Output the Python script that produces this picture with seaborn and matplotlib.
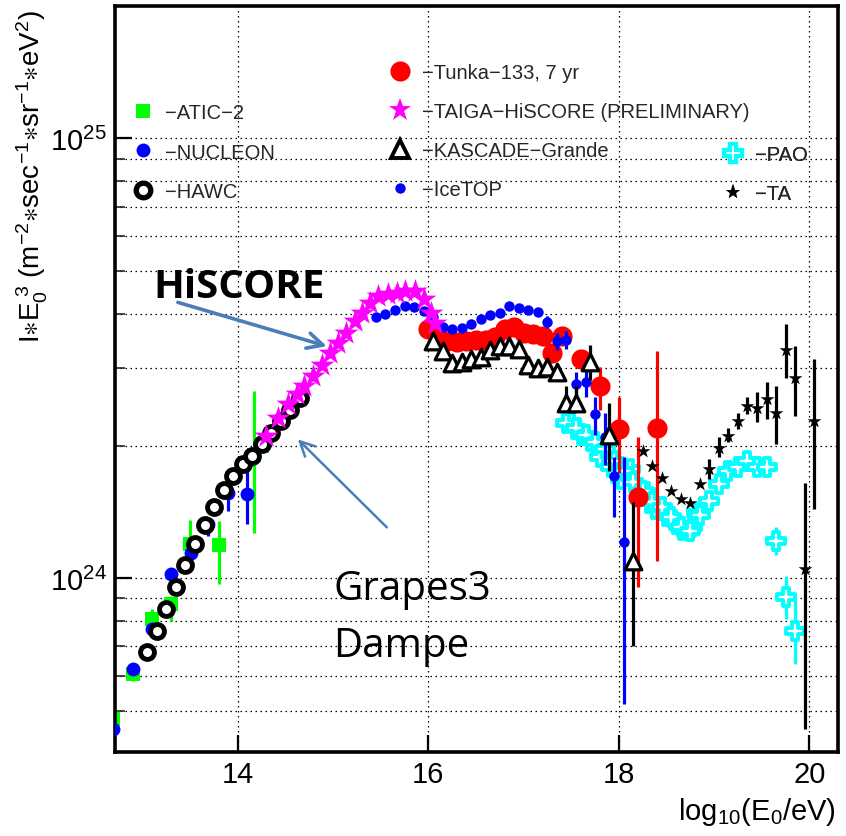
import numpy as np
import pandas as pd
import matplotlib
matplotlib.use("Agg")
import matplotlib.pyplot as plt
import seaborn as sns
from matplotlib.lines import Line2D
from matplotlib.ticker import LogLocator, NullFormatter, FixedLocator, NullLocator

# ---------------- data: x = log10(E0/eV), y = I*E0^3 in units of 1e24 ----------------
atic_x = [12.69, 12.90, 13.10, 13.30, 13.50, 13.80, 14.17, 14.25]
atic_y = [0.48, 0.605, 0.81, 0.875, 1.20, 1.19, 1.91, 2.00]
atic_lo = [0.46, 0.585, 0.77, 0.80, 1.07, 0.97, 1.27, 1.95]
atic_hi = [0.51, 0.625, 0.85, 0.91, 1.355, 1.35, 2.66, 2.05]

nucleon_x = [12.69, 12.90, 13.10, 13.30, 13.51, 13.69, 13.90, 14.10]
nucleon_y = [0.455, 0.623, 0.766, 1.025, 1.144, 1.327, 1.566, 1.552]
nucleon_lo = [0.45, 0.61, 0.75, 1.0, 1.12, 1.248, 1.422, 1.327]
nucleon_hi = [0.46, 0.635, 0.78, 1.05, 1.17, 1.38, 1.619, 1.767]

hawc_x = [13.05, 13.15, 13.25, 13.35, 13.45, 13.55, 13.65, 13.75, 13.85, 13.95,
          14.05, 14.15, 14.25, 14.35, 14.45, 14.55, 14.65]
hawc_y = [0.68, 0.76, 0.85, 0.955, 1.07, 1.20, 1.32, 1.45, 1.585, 1.71,
          1.82, 1.90, 2.02, 2.14, 2.28, 2.42, 2.57]

taiga_x = [14.30, 14.42, 14.53, 14.62, 14.69, 14.79, 14.88, 14.97, 15.05, 15.14,
           15.23, 15.30, 15.39, 15.47, 15.58, 15.67, 15.75, 15.86, 15.95, 16.03, 16.07]
taiga_y = [2.11, 2.32, 2.49, 2.62, 2.74, 2.88, 3.06, 3.26, 3.43, 3.62,
           3.85, 4.02, 4.23, 4.38, 4.42, 4.46, 4.50, 4.50, 4.31, 4.02, 3.81]

icetop_x = [15.45, 15.55, 15.65, 15.75, 15.85, 15.95, 16.05, 16.15, 16.25, 16.35,
            16.45, 16.55, 16.65, 16.75, 16.85, 16.95, 17.05, 17.15, 17.25, 17.35,
            17.45, 17.55, 17.65, 17.75, 17.85, 17.95, 18.05]
icetop_y = [3.92, 4.00, 4.08, 4.15, 4.13, 4.06, 3.92, 3.72, 3.68, 3.70,
            3.78, 3.88, 3.96, 4.02, 4.17, 4.11, 4.08, 4.04, 3.82, 3.46,
            3.49, 2.76, 2.79, 2.36, 2.10, 1.71, 1.21]
icetop_err_x = [17.25, 17.35, 17.45, 17.55, 17.65, 17.75, 17.85, 17.95, 18.05]
icetop_lo = [3.70, 3.30, 3.33, 2.59, 2.59, 2.12, 1.81, 1.38, 0.517]
icetop_hi = [3.95, 3.62, 3.65, 2.94, 2.96, 2.58, 2.38, 1.89, 1.89]

tunka_x = [16.0, 16.1, 16.2, 16.3, 16.4, 16.5, 16.6, 16.7, 16.8, 16.9,
           17.0, 17.1, 17.2, 17.3, 17.4, 17.6, 17.8, 18.0, 18.2, 18.4]
tunka_y = [3.68, 3.53, 3.46, 3.44, 3.47, 3.49, 3.49, 3.53, 3.68, 3.72,
           3.62, 3.60, 3.55, 3.26, 3.55, 3.15, 2.73, 2.18, 1.53, 2.20]
tunka_err_x = [17.8, 18.0, 18.2, 18.4]
tunka_lo = [2.42, 1.74, 0.954, 1.093]
tunka_hi = [3.03, 2.59, 2.10, 3.28]

kascade_x = [16.05, 16.15, 16.25, 16.35, 16.45, 16.55, 16.65, 16.75, 16.85, 16.95,
             17.05, 17.15, 17.25, 17.35, 17.45, 17.55, 17.70, 17.90, 18.15]
kascade_y = [3.46, 3.28, 3.08, 3.10, 3.16, 3.18, 3.31, 3.38, 3.38, 3.33,
             3.05, 3.00, 3.03, 2.94, 2.51, 2.51, 3.10, 2.12, 1.093]
kascade_err_x = [17.45, 17.55, 17.70, 17.90, 18.15]
kascade_lo = [2.39, 2.39, 2.83, 1.75, 0.70]
kascade_hi = [2.73, 2.73, 3.40, 2.51, 1.488]

pao_x = [17.45, 17.55, 17.65, 17.75, 17.85, 17.95, 18.05, 18.15, 18.25, 18.35,
         18.45, 18.55, 18.65, 18.75, 18.85, 18.95, 19.05, 19.15, 19.25, 19.35,
         19.45, 19.55, 19.65, 19.75, 19.85]
pao_y = [2.26, 2.20, 2.12, 2.04, 1.965, 1.845, 1.75, 1.66, 1.577, 1.49,
         1.45, 1.376, 1.306, 1.279, 1.39, 1.496, 1.635, 1.75, 1.787, 1.845,
         1.787, 1.787, 1.214, 0.906, 0.758]
pao_err_x = [19.65, 19.75, 19.85]
pao_lo = [1.13, 0.81, 0.638]
pao_hi = [1.31, 1.01, 0.896]
pao2_x = [17.50, 17.60, 17.70, 17.80, 17.92, 18.02, 18.12, 18.28, 18.38, 18.49,
          18.57, 18.66, 18.77, 18.82]
pao2_y = [2.27, 2.12, 2.05, 1.89, 1.79, 1.68, 1.77, 1.57, 1.435, 1.383,
          1.36, 1.29, 1.31, 1.41]

ta_x = [18.25, 18.35, 18.45, 18.55, 18.65, 18.75, 18.85, 18.95, 19.05, 19.15,
        19.25, 19.35, 19.45, 19.55, 19.65, 19.75, 19.85, 19.95, 20.05]
ta_y = [1.946, 1.80, 1.693, 1.579, 1.512, 1.486, 1.635, 1.769, 1.98, 2.106,
        2.278, 2.47, 2.443, 2.56, 2.38, 3.30, 2.85, 1.052, 2.278]
ta_err_x = [18.95, 19.05, 19.15, 19.25, 19.35, 19.45, 19.55, 19.65, 19.75, 19.85, 19.95, 20.05]
ta_lo = [1.679, 1.89, 2.04, 2.18, 2.36, 2.27, 2.30, 2.016, 2.86, 2.335, 0.454, 1.435]
ta_hi = [1.865, 2.10, 2.2, 2.38, 2.59, 2.65, 2.80, 2.73, 3.78, 3.37, 1.65, 3.15]

x_ticks = [14, 16, 18, 20]
labels = ["\u2212ATIC\u22122", "\u2212NUCLEON", "\u2212HAWC",
          "\u2212Tunka\u2212133, 7 yr", "\u2212TAIGA\u2212HiSCORE (PRELIMINARY)",
          "\u2212KASCADE\u2212Grande", "\u2212IceTOP", "\u2212PAO", "\u2212TA"]

UNIT = 1e24

# ---------------- style ----------------
sns.set_theme(style="white")
plt.rcParams['font.family'] = ['Liberation Sans', 'DejaVu Sans']
plt.rcParams['mathtext.fontset'] = 'custom'
plt.rcParams['mathtext.rm'] = 'Liberation Sans'
plt.rcParams['mathtext.it'] = 'Liberation Sans:italic'
plt.rcParams['mathtext.bf'] = 'Liberation Sans:bold'
plt.rcParams['mathtext.sf'] = 'Liberation Sans'

GREEN, BLUE, RED, MAG, CYAN = '#00ff00', '#0000ff', '#ff0000', '#ff00ff', '#00ffff'

fig = plt.figure(figsize=(8.46, 8.37), dpi=100)
ax = fig.add_axes([0.1359, 0.1004, 0.8546, 0.8912])


def scale(v):
    return [val * UNIT for val in v]


def err(xs, lo, hi, color, z):
    ax.vlines(xs, scale(lo), scale(hi), colors=color, lw=2.3, zorder=z)


def scat(xs, ys, marker, ms, face, edge, lw, z):
    df = pd.DataFrame({"x": xs, "y": scale(ys)})
    sns.scatterplot(data=df, x="x", y="y", marker=marker, s=ms ** 2,
                    color=face, edgecolor=edge, linewidth=lw, ax=ax, zorder=z,
                    legend=False)


# ATIC-2
err(atic_x, atic_lo, atic_hi, GREEN, 2)
scat(atic_x, atic_y, 's', 10, GREEN, GREEN, 0, 2)
# NUCLEON
err(nucleon_x, nucleon_lo, nucleon_hi, BLUE, 3)
scat(nucleon_x, nucleon_y, 'o', 10, BLUE, BLUE, 0, 3)
# HAWC
scat(hawc_x, hawc_y, 'o', 10, 'white', 'black', 3.5, 4)
# Tunka-133
err(tunka_err_x, tunka_lo, tunka_hi, RED, 5)
scat(tunka_x, tunka_y, 'o', 14.5, RED, RED, 0, 5)
# IceTOP
err(icetop_err_x, icetop_lo, icetop_hi, BLUE, 6)
scat(icetop_x, icetop_y, 'o', 7.5, BLUE, BLUE, 0, 6)
# KASCADE-Grande
err(kascade_err_x, kascade_lo, kascade_hi, 'black', 7)
scat(kascade_x, kascade_y, '^', 12, 'white', 'black', 2.3, 7)
# TAIGA-HiSCORE
scat(taiga_x, taiga_y, '*', 18, MAG, MAG, 0, 8)
# PAO
err(pao_err_x, pao_lo, pao_hi, CYAN, 4)
scat(pao2_x, pao2_y, 'P', 12.5, 'white', CYAN, 2.8, 4)
scat(pao_x, pao_y, 'P', 12.5, 'white', CYAN, 2.8, 4)
# TA
err(ta_err_x, ta_lo, ta_hi, 'black', 9)
scat(ta_x, ta_y, '*', 10.5, 'black', 'black', 0, 9)

# ---------------- axes ----------------
ax.set_yscale('log')
ax.set_xlim(12.71, 20.30)
ax.set_ylim(4.03e23, 2.0e25)
ax.xaxis.set_major_locator(FixedLocator(x_ticks))
ax.xaxis.set_minor_locator(NullLocator())
ax.set_xticklabels([str(t) for t in x_ticks])
ax.yaxis.set_major_locator(LogLocator(base=10, numticks=10))
ax.yaxis.set_minor_locator(LogLocator(base=10, subs=np.arange(2, 10), numticks=20))
ax.yaxis.set_minor_formatter(NullFormatter())

grid_kw = dict(color='black', lw=0.9, linestyle=(0, (1.2, 2.8)))
ax.grid(False)
ax.grid(True, which='major', axis='x', **grid_kw)
ax.grid(True, which='both', axis='y', **grid_kw)
ax.set_axisbelow(True)

ax.tick_params(axis='both', which='major', direction='in', length=12, width=1.6,
               labelsize=21, colors='black', pad=6, left=True, bottom=True)
ax.tick_params(axis='y', which='minor', direction='in', length=7, width=1.2, left=True)
for sp in ax.spines.values():
    sp.set_color('black')
    sp.set_linewidth(2.6)

ax.set_xlabel(r"$\mathregular{log_{10}(E_0/eV)}$", fontsize=21, loc='right', color='black')
ax.xaxis.set_label_coords(0.997, -0.058)
ax.set_ylabel(r"$\mathregular{I{\ast}E_0^{\ 3}\ (m^{-2}{\ast}sec^{-1}{\ast}sr^{-1}{\ast}eV^{2})}$",
              fontsize=20, loc='top', color='black')
ax.yaxis.set_label_coords(-0.090, 0.996)

# ---------------- legends ----------------
def h(marker, ms, face, edge, mew):
    return Line2D([], [], linestyle='none', marker=marker, markersize=ms,
                  markerfacecolor=face, markeredgecolor=edge, markeredgewidth=mew)

leg_kw = dict(frameon=False, borderpad=0, borderaxespad=0, handlelength=0.8,
              handletextpad=0.70, labelspacing=1.0, fontsize=14.5,
              bbox_transform=fig.transFigure, loc='center left')

l1 = ax.legend([h('s', 10, GREEN, GREEN, 0), h('o', 10, BLUE, BLUE, 0),
                h('o', 10.5, 'white', 'black', 3.8)], labels[0:3],
               bbox_to_anchor=(134.5 / 846, 1 - 153 / 837), **leg_kw)
ax.add_artist(l1)
l2 = ax.legend([h('o', 14.5, RED, RED, 0), h('*', 17, MAG, MAG, 0),
                h('^', 13, 'white', 'black', 2.8), h('o', 7.5, BLUE, BLUE, 0)], labels[3:7],
               bbox_to_anchor=(392 / 846, 1 - 132 / 837), **leg_kw)
ax.add_artist(l2)
l3 = ax.legend([h('P', 13, 'white', CYAN, 3), h('*', 11, 'black', 'black', 0)], labels[7:9],
               bbox_to_anchor=(725 / 846, 1 - 175 / 837), **leg_kw)
ax.add_artist(l3)

# ---------------- annotations ----------------
ARROW = '#4a7ebb'
ax.text(13.108, 4.35 * UNIT, "HiSCORE", fontsize=29, fontweight='bold',
        family=['Open Sans', 'DejaVu Sans'], ha='left', va='baseline', color='black', zorder=10)
ax.annotate("", xy=(14.934, 3.37 * UNIT), xytext=(13.37, 4.24 * UNIT),
            arrowprops=dict(arrowstyle='->', color=ARROW, lw=2.6, mutation_scale=28,
                            shrinkA=0, shrinkB=0), zorder=10)
ax.text(15.0, 0.896 * UNIT, "Grapes3", fontsize=29, family=['Open Sans', 'DejaVu Sans'],
        ha='left', va='baseline', color='black', zorder=10)
ax.text(15.0, 0.665 * UNIT, "Dampe", fontsize=29, family=['Open Sans', 'DejaVu Sans'],
        ha='left', va='baseline', color='black', zorder=10)
ax.annotate("", xy=(14.63, 2.07 * UNIT), xytext=(15.564, 1.306 * UNIT),
            arrowprops=dict(arrowstyle='->', color=ARROW, lw=1.8, mutation_scale=26,
                            shrinkA=0, shrinkB=0), zorder=10)

fig.savefig("out.png", dpi=100)
